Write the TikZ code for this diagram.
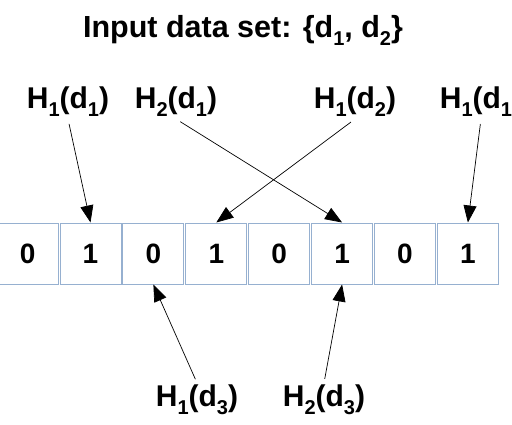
\documentclass[tikz,border=0pt]{standalone}
\usepackage{xcolor}
\usepackage{fontspec}
\setmainfont{Liberation Sans}
\usepackage{tikz}
\usetikzlibrary{arrows.meta, positioning, calc}

\definecolor{cellline}{RGB}{150,176,208}
\newcommand{\idx}[1]{\raisebox{-0.5ex}{\fontsize{20}{20}\selectfont #1}}

\begin{document}
\begin{tikzpicture}[x=1pt, y=1pt,
    bit/.style={draw=cellline, line width=1pt, minimum width=61pt,
                minimum height=61pt, inner sep=0pt,
                font=\fontsize{28}{28}\selectfont\bfseries},
    hlbl/.style={inner sep=2pt, font=\fontsize{30}{35}\selectfont\bfseries},
    ttl/.style={font=\fontsize{30.5}{35}\selectfont\bfseries},
    hash/.style={-{Triangle[length=17pt, width=13pt]}, line width=0.7pt}
]
\useasboundingbox (0,0) rectangle (512,424);

\node[ttl] (title) at (243, 394) {Input data set: \{d\idx{1}, d\idx{2}\}};

% bit array
\node[bit] (c1) at (27.6, 170.5) {0};
\node[bit] (c2) at (90.5, 170.5) {1};
\node[bit] (c3) at (153.4, 170.5) {0};
\node[bit] (c4) at (216.3, 170.5) {1};
\node[bit] (c5) at (279.2, 170.5) {0};
\node[bit] (c6) at (342.1, 170.5) {1};
\node[bit] (c7) at (405.0, 170.5) {0};
\node[bit] (c8) at (467.9, 170.5) {1};

% hash positions
\node[hlbl] (h1a) at (68, 322)  {H\idx{1}(d\idx{1})};
\node[hlbl] (h2a) at (176, 322) {H\idx{2}(d\idx{1})};
\node[hlbl] (h1b) at (355, 322) {H\idx{1}(d\idx{2})};
\node[hlbl] (h1c) at (481, 322) {H\idx{1}(d\idx{1})};
\node[hlbl] (h1d) at (197, 24)  {H\idx{1}(d\idx{3})};
\node[hlbl] (h2d) at (324, 24)  {H\idx{2}(d\idx{3})};

\draw[hash, shorten <=5pt] (h1a.south) -- (c2.north);
\draw[hash, shorten <=5pt] (h2a.south) -- (c6.north);
\draw[hash, shorten <=5pt] (h1b.south) -- (c4.north);
\draw[hash, shorten <=5pt] (h1c.south) -- (c8.north);
\draw[hash, shorten <=4pt] (h1d.north) -- (c3.south);
\draw[hash, shorten <=4pt] (h2d.north) -- (c6.south);
\end{tikzpicture}
\end{document}
